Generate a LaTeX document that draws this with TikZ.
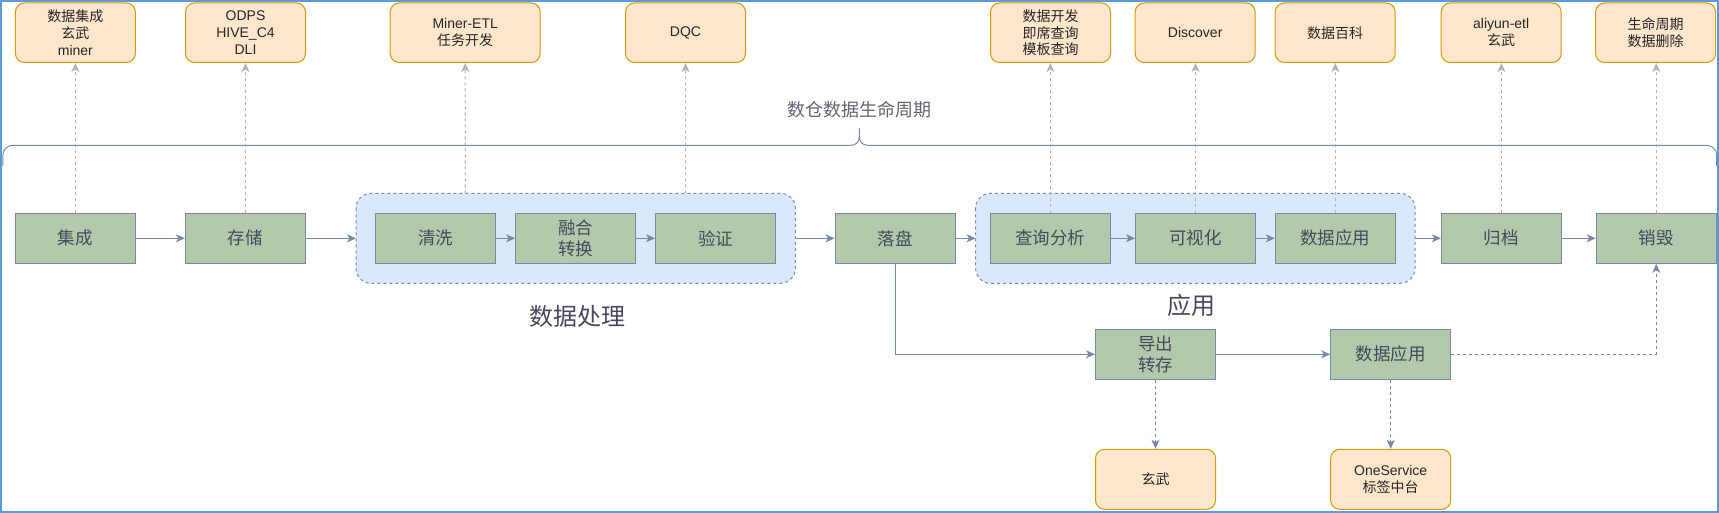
\documentclass[tikz,border=0pt]{standalone}
\usepackage{fontspec}
\setmainfont{Liberation Sans}
\newfontfamily\cjk{Noto Sans CJK SC}
\usetikzlibrary{arrows.meta}
\definecolor{greenF}{HTML}{B2C9AB}
\definecolor{lineC}{HTML}{788AA3}
\definecolor{txtC}{HTML}{46495D}
\definecolor{orF}{HTML}{FFE6CC}
\definecolor{orD}{HTML}{D79B00}
\definecolor{grpF}{HTML}{DAE8FC}
\definecolor{greyA}{HTML}{B3B3B3}
\definecolor{frameC}{HTML}{5A9BD8}
\newcommand{\C}[1]{{\cjk #1}}
\tikzset{
  gbox/.style={draw=lineC, fill=greenF, minimum width=120pt, minimum height=50pt, inner sep=0pt,
    text=txtC, font=\cjk\fontsize{17.5}{20.5}\selectfont, align=center, line width=1pt},
  obox/.style={draw=orD, fill=orF, rounded corners=9pt, minimum width=120pt, minimum height=59.5pt,
    inner sep=0pt, text=black!85, font=\fontsize{14}{16.7}\selectfont, align=center, line width=1pt},
  grp/.style={draw=lineC, fill=grpF, rounded corners=15pt, line width=1pt, dash pattern=on 3pt off 3pt},
  flow/.style={draw=lineC, line width=1pt, -{Stealth[length=9pt,width=8pt,inset=2.5pt]}},
  dflow/.style={flow, dash pattern=on 3pt off 3pt},
  tool/.style={draw=greyA, line width=1pt, dash pattern=on 3pt off 3pt, -{Stealth[length=9pt,width=8pt,inset=2.5pt]}},
  lbl/.style={text=txtC, inner sep=0pt, font=\cjk\fontsize{24}{28}\selectfont},
}
\begin{document}
\begin{tikzpicture}[x=1pt,y=-1pt]
\useasboundingbox (0,0) rectangle (1719,513);
\draw[frameC, line width=1.6pt] (0.8,0.8) rectangle (1718.2,512.2);
% groups
\path[grp] (356,193.3) rectangle (795.4,283.3);
\path[grp] (975.6,193.3) rectangle (1415,283.3);
\coordinate (g1w) at (356,238.3);
\coordinate (g1e) at (795.4,238.3);
\coordinate (g2w) at (975.6,238.3);
\coordinate (g2e) at (1415,238.3);
\coordinate (g1a) at (465.4,193.3);
\coordinate (g1b) at (685.6,193.3);
\node[lbl] (l1) at (577,316.7) {数据处理};
\node[lbl] (l2) at (1191.5,305) {应用};
% main boxes
\node[gbox] (jc) at (75.4,238.3) {集成};
\node[gbox] (cc) at (245.4,238.3) {存储};
\node[gbox] (qx) at (435.8,238.3) {清洗};
\node[gbox] (rh) at (575.7,238.3) {融合\\转换};
\node[gbox] (yz) at (715.5,238.3) {验证};
\node[gbox] (lp) at (895,238.3) {落盘};
\node[gbox] (cx) at (1050.4,238.3) {查询分析};
\node[gbox] (ks) at (1195.5,238.3) {可视化};
\node[gbox] (sy) at (1335.3,238.3) {数据应用};
\node[gbox] (gd) at (1501.4,238.3) {归档};
\node[gbox] (xh) at (1656.2,238.3) {销毁};
\node[gbox] (dc) at (1155.5,354.3) {导出\\转存};
\node[gbox] (sy2) at (1390.7,354.3) {数据应用};
% tool boxes
\node[obox] (t1) at (75.4,32.75) {\C{数据集成}\\\C{玄武}\\miner};
\node[obox] (t2) at (245.5,32.75) {ODPS\\HIVE\_C4\\DLI};
\node[obox, minimum width=150pt] (t3) at (465.2,32.75) {Miner-ETL\\\C{任务开发}};
\node[obox] (t4) at (685.5,32.75) {DQC};
\node[obox] (t5) at (1050.5,32.75) {\C{数据开发}\\\C{即席查询}\\\C{模板查询}};
\node[obox] (t6) at (1195.2,32.75) {Discover};
\node[obox] (t7) at (1335.2,32.75) {\C{数据百科}};
\node[obox] (t8) at (1501.2,32.75) {aliyun-etl\\\C{玄武}};
\node[obox] (t9) at (1655.6,32.75) {\C{生命周期}\\\C{数据删除}};
\node[obox, minimum height=60pt] (b1) at (1155.5,479.3) {\C{玄武}};
\node[obox, minimum height=60pt] (b2) at (1390.7,479.3) {OneService\\\C{标签中台}};
% title and brace
\node[text=txtC!85, inner sep=0pt, font=\cjk\fontsize{18}{21}\selectfont] (title) at (859.3,109.3) {数仓数据生命周期};
\draw[lineC, line width=1pt] (2.8,166) -- (2.8,155.3) .. controls (2.8,149.8) and (7.3,145.3) .. (12.8,145.3) -- (851,145.3)
  .. controls (856,145.3) and (859.3,141.5) .. (859.3,137) -- (859.3,128.3);
\draw[lineC, line width=1pt] (859.3,137) .. controls (859.3,141.5) and (862.6,145.3) .. (867.6,145.3) -- (1706.7,145.3)
  .. controls (1712.2,145.3) and (1716.7,149.8) .. (1716.7,155.3) -- (1716.7,166);
% flow arrows
\draw[flow] (jc) -- (cc);
\draw[flow] (cc) -- (g1w);
\draw[flow] (qx) -- (rh);
\draw[flow] (rh) -- (yz);
\draw[flow] (g1e) -- (lp);
\draw[flow] (lp) -- (g2w);
\draw[flow] (cx) -- (ks);
\draw[flow] (ks) -- (sy);
\draw[flow] (g2e) -- (gd);
\draw[flow] (gd) -- (xh);
\draw[flow] (lp.south) |- (dc.west);
\draw[flow] (dc) -- (sy2);
\draw[dflow] (sy2.east) -| (xh.south);
\draw[dflow] (dc) -- (b1);
\draw[dflow] (sy2) -- (b2);
% tool arrows
\draw[tool] (jc.north) -- (t1.south);
\draw[tool] (cc.north) -- (t2.south);
\draw[tool] (g1a) -- (t3.south);
\draw[tool] (g1b) -- (t4.south);
\draw[tool] (cx.north) -- (cx.north |- t5.south);
\draw[tool] (ks.north) -- (ks.north |- t6.south);
\draw[tool] (sy.north) -- (sy.north |- t7.south);
\draw[tool] (gd.north) -- (gd.north |- t8.south);
\draw[tool] (xh.north) -- (xh.north |- t9.south);
\end{tikzpicture}
\end{document}
